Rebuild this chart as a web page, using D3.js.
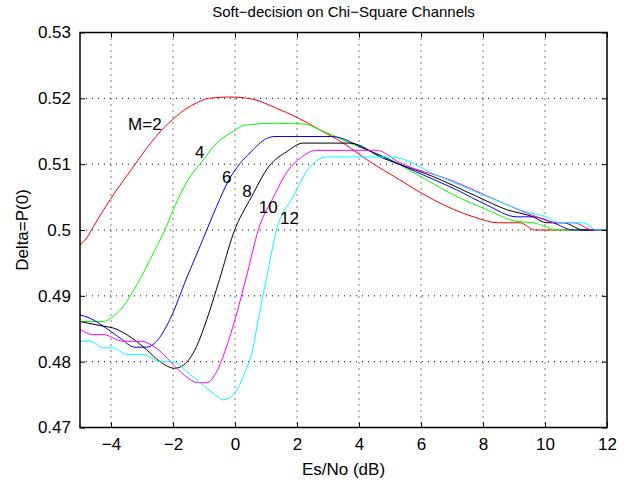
<!DOCTYPE html>
<html>
<head>
<meta charset="utf-8">
<script src="https://cdn.jsdelivr.net/npm/d3@7"></script>
<style>
  body { margin: 0; background: #fff; }
  svg { display: block; font-family: "Liberation Sans", Arial, Helvetica, sans-serif; }
</style>
</head>
<body>
<div id="chart"></div>
<script>
const WIDTH = 635;
const HEIGHT = 482;

// Es/No (dB), Delta=P(0) pairs
const m2 = [
  [-5, 0.4977], [-4.78, 0.4988], [-4.57, 0.5005], [-4.03, 0.5046], [-3.28, 0.5096],
  [-2.69, 0.5134], [-2.15, 0.5162], [-1.61, 0.5183], [-1.2, 0.5194], [-0.86, 0.5200],
  [-0.16, 0.5202], [0.54, 0.5199], [1.34, 0.5185], [2.0, 0.5171], [2.74, 0.5152],
  [3.49, 0.5132], [4.25, 0.5107], [5.32, 0.5076], [6.40, 0.5046], [7.69, 0.5020],
  [8.49, 0.5011], [9.19, 0.5011], [9.68, 0.5000], [12, 0.5000]
];
const m4 = [
  [-5, 0.4861], [-4.25, 0.4861], [-3.9, 0.4870], [-3.6, 0.4884], [-3.39, 0.4899],
  [-2.9, 0.4940], [-2.58, 0.4970], [-2.26, 0.5000], [-1.99, 0.5031], [-1.45, 0.5081],
  [-1.13, 0.5100], [-0.59, 0.5132], [-0.05, 0.5150], [0.3, 0.5159], [1.24, 0.5162],
  [2.2, 0.5161], [2.85, 0.5150], [3.71, 0.5132], [5.0, 0.5107], [6.18, 0.5076],
  [7.15, 0.5051], [8.12, 0.5031], [9.09, 0.5013], [9.62, 0.5011], [10.43, 0.5000],
  [12, 0.5000]
];
const m6 = [
  [-5, 0.4871], [-4.68, 0.4866], [-4.25, 0.4854], [-3.71, 0.4836], [-3.23, 0.4822],
  [-2.85, 0.4822], [-2.53, 0.4831], [-2.1, 0.4864], [-1.56, 0.4927], [-1.13, 0.4975],
  [-0.59, 0.5036], [-0.22, 0.5074], [0.16, 0.5101], [0.48, 0.5117], [1.02, 0.5139],
  [1.29, 0.5142], [3.12, 0.5142], [4.25, 0.5122], [5.81, 0.5089], [7.15, 0.5061],
  [8.12, 0.5038], [9.09, 0.5020], [9.62, 0.5020], [10.27, 0.5011], [10.91, 0.5000],
  [12, 0.5000]
];
const m8 = [
  [-5, 0.4861], [-4.25, 0.4854], [-3.92, 0.4851], [-3.33, 0.4836], [-2.85, 0.4818],
  [-2.42, 0.4800], [-1.95, 0.4790], [-1.72, 0.4793], [-1.24, 0.4823], [-0.91, 0.4864],
  [-0.5, 0.4925], [-0.05, 0.4995], [0.54, 0.5051], [1.1, 0.5097], [1.67, 0.5119],
  [2.2, 0.5132], [3.71, 0.5132], [4.78, 0.5109], [6.40, 0.5081], [7.80, 0.5051],
  [8.76, 0.5031], [9.62, 0.5020], [10.05, 0.5011], [10.59, 0.5011], [11.24, 0.5000],
  [12, 0.5000]
];
const m10 = [
  [-5, 0.4849], [-4.57, 0.4841], [-4.25, 0.4841], [-3.60, 0.4831], [-3.06, 0.4831],
  [-2.42, 0.4816], [-1.94, 0.4793], [-1.51, 0.4775], [-1.2, 0.4768], [-0.91, 0.4768],
  [-0.59, 0.4785], [-0.27, 0.4823], [0, 0.4864], [0.4, 0.4935], [0.75, 0.5000],
  [1.24, 0.5050], [1.72, 0.5091], [2.10, 0.5109], [2.64, 0.5121], [4.57, 0.5121],
  [5.32, 0.5102], [6.94, 0.5076], [8.55, 0.5043], [9.73, 0.5020], [10.38, 0.5011],
  [10.91, 0.5011], [11.56, 0.5000], [12, 0.5000]
];
const m12 = [
  [-5, 0.4831], [-4.68, 0.4831], [-4.25, 0.4821], [-3.92, 0.4821], [-3.49, 0.4811],
  [-2.96, 0.4811], [-2.42, 0.4800], [-1.99, 0.4800], [-1.56, 0.4785], [-1.13, 0.4768],
  [-0.70, 0.4752], [-0.38, 0.4742], [-0.05, 0.4750], [0.27, 0.4778], [0.59, 0.4823],
  [0.75, 0.4864], [1.05, 0.4935], [1.34, 0.5000], [1.88, 0.5051], [2.31, 0.5089],
  [2.96, 0.5111], [5.0, 0.5111], [6.61, 0.5081], [8.12, 0.5051], [9.52, 0.5026],
  [10.05, 0.5020], [10.48, 0.5011], [11.24, 0.5011], [11.67, 0.5000], [12, 0.5000]
];

const seriesData = [m2, m4, m6, m8, m10, m12];
const seriesColors = ["#ff0000", "#00ff00", "#0000ff", "#000000", "#ff00ff", "#00ffff"];

// curve annotations: text and the data point where the text starts (baseline)
const labelTexts = ["M=2", "4", "6", "8", "10", "12"];
const labelX = [-3.45, -1.29, -0.42, 0.23, 0.77, 1.45];
const labelY = [0.5152, 0.5110, 0.5072, 0.5050, 0.5026, 0.5009];

const xTicks = [-4, -2, 0, 2, 4, 6, 8, 10, 12];
const yTicks = [0.47, 0.48, 0.49, 0.5, 0.51, 0.52, 0.53];

const margin = { top: 32.5, right: 28, bottom: 54.5, left: 80 };
const width = WIDTH - margin.left - margin.right;
const height = HEIGHT - margin.top - margin.bottom;

const x = d3.scaleLinear().domain([-5, 12]).range([0, width]);
const y = d3.scaleLinear().domain([0.47, 0.53]).range([height, 0]);

const svg = d3
  .select("#chart")
  .append("svg")
  .attr("width", WIDTH)
  .attr("height", HEIGHT);

const g = svg
  .append("g")
  .attr("transform", `translate(${margin.left},${margin.top})`);

// dotted grid
g.append("g")
  .selectAll("line")
  .data(xTicks.filter(d => d > -5 && d < 12))
  .enter()
  .append("line")
  .attr("x1", d => x(d))
  .attr("x2", d => x(d))
  .attr("y1", 0)
  .attr("y2", height)
  .attr("stroke", "#000")
  .attr("stroke-width", 1)
  .attr("stroke-dasharray", "1,5");

g.append("g")
  .selectAll("line")
  .data(yTicks.filter(d => d > 0.47 && d < 0.53))
  .enter()
  .append("line")
  .attr("x1", 0)
  .attr("x2", width)
  .attr("y1", d => y(d))
  .attr("y2", d => y(d))
  .attr("stroke", "#000")
  .attr("stroke-width", 1)
  .attr("stroke-dasharray", "1,5");

// curves
const line = d3
  .line()
  .x(d => x(d[0]))
  .y(d => y(d[1]))
  .curve(d3.curveMonotoneX);

g.append("g")
  .selectAll("path")
  .data(seriesData)
  .enter()
  .append("path")
  .attr("d", line)
  .attr("fill", "none")
  .attr("stroke", (d, i) => seriesColors[i])
  .attr("stroke-width", 1);

// box with inward ticks on all sides
const tickLen = 5;
const axisStyle = sel => {
  sel.select(".domain").remove();
  sel.selectAll(".tick line").attr("stroke", "#000").attr("stroke-width", 1);
  sel.selectAll(".tick text")
    .attr("fill", "#000")
    .style("font-size", "17px");
};

g.append("g")
  .attr("transform", `translate(0,${height})`)
  .call(d3.axisBottom(x).tickValues(xTicks).tickSizeInner(-tickLen).tickSizeOuter(0).tickPadding(10))
  .call(axisStyle);

g.append("g")
  .call(d3.axisTop(x).tickValues(xTicks).tickSizeInner(-tickLen).tickSizeOuter(0).tickFormat(""))
  .call(axisStyle);

g.append("g")
  .call(
    d3.axisLeft(y)
      .tickValues(yTicks)
      .tickSizeInner(-tickLen)
      .tickSizeOuter(0)
      .tickPadding(9)
      .tickFormat(d => d3.format("")(+d.toFixed(2)))
  )
  .call(axisStyle);

g.append("g")
  .attr("transform", `translate(${width},0)`)
  .call(d3.axisRight(y).tickValues(yTicks).tickSizeInner(-tickLen).tickSizeOuter(0).tickFormat(""))
  .call(axisStyle);

g.append("rect")
  .attr("width", width)
  .attr("height", height)
  .attr("fill", "none")
  .attr("stroke", "#000")
  .attr("stroke-width", 1.5);

// curve labels
g.append("g")
  .selectAll("text")
  .data(labelTexts)
  .enter()
  .append("text")
  .attr("x", (d, i) => x(labelX[i]))
  .attr("y", (d, i) => y(labelY[i]))
  .style("font-size", "17px")
  .text(d => d);

// title and axis labels
svg.append("text")
  .attr("x", margin.left + width / 2)
  .attr("y", 17)
  .attr("text-anchor", "middle")
  .style("font-size", "15px")
  .text("Soft\u2212decision on Chi\u2212Square Channels");

svg.append("text")
  .attr("x", margin.left + width / 2)
  .attr("y", 475)
  .attr("text-anchor", "middle")
  .style("font-size", "17px")
  .text("Es/No (dB)");

svg.append("text")
  .attr("transform", `translate(28,${margin.top + height / 2}) rotate(-90)`)
  .attr("text-anchor", "middle")
  .style("font-size", "17px")
  .text("Delta=P(0)");
</script>
</body>
</html>
